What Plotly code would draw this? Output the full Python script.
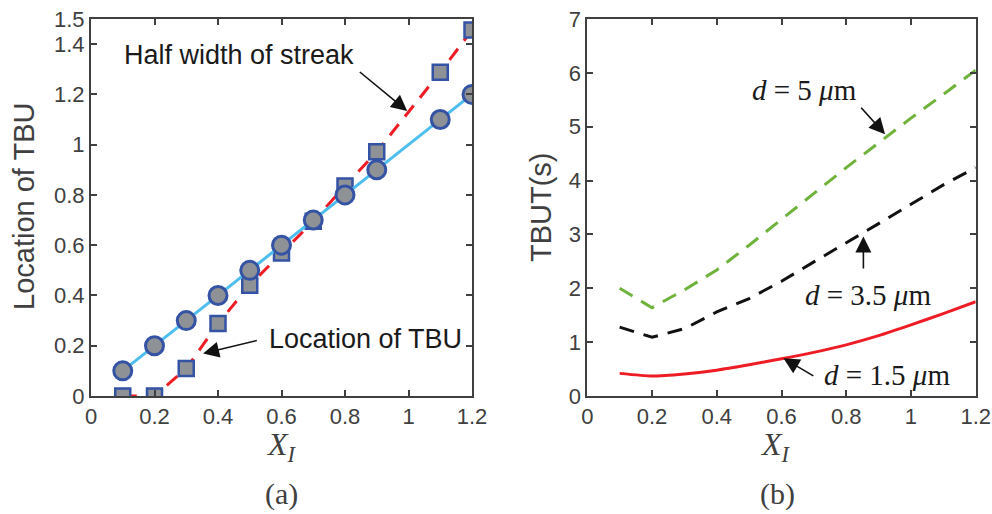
import plotly.graph_objects as go

# ---- data (a) ----
xa = [0.1, 0.2, 0.3, 0.4, 0.5, 0.6, 0.7, 0.8, 0.9, 1.1, 1.2]
loc_tbu = [0.0, 0.0, 0.109, 0.288, 0.441, 0.569, 0.695, 0.836, 0.972, 1.288, 1.456]
half_width = [0.1, 0.2, 0.3, 0.4, 0.5, 0.6, 0.7, 0.8, 0.9, 1.1, 1.2]

# ---- data (b) ----
xb = [0.1, 0.2, 0.3, 0.4, 0.5, 0.6, 0.7, 0.8, 0.9, 1.0, 1.1, 1.2]
tbut_d5 = [2.0, 1.64, 1.97, 2.34, 2.80, 3.28, 3.77, 4.24, 4.70, 5.16, 5.60, 6.05]
tbut_d35 = [1.28, 1.09, 1.25, 1.56, 1.81, 2.13, 2.49, 2.84, 3.20, 3.56, 3.92, 4.24]
tbut_d15 = [0.42, 0.37, 0.41, 0.48, 0.58, 0.69, 0.81, 0.95, 1.12, 1.32, 1.53, 1.75]

xticks = [0, 0.2, 0.4, 0.6, 0.8, 1.0, 1.2]
xticklabels = ["0", "0.2", "0.4", "0.6", "0.8", "1", "1.2"]
yticks_a = [0, 0.2, 0.4, 0.6, 0.8, 1.0, 1.2, 1.4, 1.5]
yticklabels_a = ["0", "0.2", "0.4", "0.6", "0.8", "1", "1.2", "1.4", "1.5"]
yticks_b = [0, 1, 2, 3, 4, 5, 6, 7]

AX = "#404040"
SANS = "Liberation Sans, Arial, sans-serif"
SERIF = "Liberation Serif, DejaVu Serif, serif"
MFILL = "#8e9196"
MEDGE = "#3553a5"

fig = go.Figure()

fig.add_trace(go.Scatter(
    x=xa, y=loc_tbu, mode="lines+markers", xaxis="x", yaxis="y",
    line=dict(color="#ee1c24", width=3, dash="14px,10px"),
    marker=dict(symbol="square", size=15, color=MFILL, line=dict(color=MEDGE, width=2.5)),
    showlegend=False))
fig.add_trace(go.Scatter(
    x=xa, y=half_width, mode="lines+markers", xaxis="x", yaxis="y",
    line=dict(color="#4dbeee", width=3),
    marker=dict(symbol="circle", size=18, color=MFILL, line=dict(color=MEDGE, width=3)),
    showlegend=False))

fig.add_trace(go.Scatter(
    x=xb, y=tbut_d5, mode="lines", xaxis="x2", yaxis="y2",
    line=dict(color="#6fb23c", width=3, dash="15px,10px"), showlegend=False))
fig.add_trace(go.Scatter(
    x=xb, y=tbut_d35, mode="lines", xaxis="x2", yaxis="y2",
    line=dict(color="#111111", width=3, dash="15px,10px"), showlegend=False))
fig.add_trace(go.Scatter(
    x=xb, y=tbut_d15, mode="lines", xaxis="x2", yaxis="y2",
    line=dict(color="#ee1c24", width=3, shape="spline", smoothing=0.6), showlegend=False))

axcommon = dict(showline=True, linecolor=AX, linewidth=2, mirror="ticks",
                ticks="inside", ticklen=6, tickwidth=2, tickcolor=AX,
                showgrid=False, zeroline=False, automargin=False,
                tickfont=dict(family=SANS, size=22, color=AX))

ydom = [1 - 396 / 514, 1 - 19 / 514]
fig.update_layout(
    width=992, height=514, autosize=False,
    margin=dict(l=0, r=0, t=0, b=0, pad=0),
    paper_bgcolor="white", plot_bgcolor="white",
    xaxis=dict(domain=[91 / 992, 472 / 992], range=[0, 1.2], tickvals=xticks,
               ticktext=xticklabels, anchor="y", **axcommon),
    yaxis=dict(domain=ydom, range=[0, 1.5], tickvals=yticks_a, ticktext=yticklabels_a,
               anchor="x", **axcommon),
    xaxis2=dict(domain=[587.3 / 992, 975.7 / 992], range=[0, 1.2], tickvals=xticks,
                ticktext=xticklabels, anchor="y2", **axcommon),
    yaxis2=dict(domain=ydom, range=[0, 7], tickvals=yticks_b, anchor="x2", **axcommon),
)

def ptxt(px, py, text, size, family, angle=0, color="#222222"):
    fig.add_annotation(x=px / 992, y=1 - py / 514, xref="paper", yref="paper",
                       text=text, showarrow=False, textangle=angle,
                       xanchor="center", yanchor="middle",
                       font=dict(family=family, size=size, color=color))

# axis titles and panel labels
ptxt(24, 207, "Location of TBU", 29, SANS, angle=-90, color=AX)
ptxt(541, 207, "TBUT(s)", 29, SANS, angle=-90, color=AX)
ptxt(281, 446, "<i>X</i><sub><i>I</i></sub>", 32, SERIF, color=AX)
ptxt(775, 446, "<i>X</i><sub><i>I</i></sub>", 32, SERIF, color=AX)
ptxt(281, 494, "(a)", 30, SERIF, color=AX)
ptxt(777, 494, "(b)", 30, SERIF, color=AX)

def arrow(xr, yr, x, y, ax, ay):
    fig.add_annotation(x=x, y=y, ax=ax, ay=ay, xref=xr, yref=yr, axref=xr, ayref=yr,
                       text="", showarrow=True, arrowhead=2, arrowsize=2,
                       arrowwidth=1.6, arrowcolor="#111111")

def dtxt(xr, yr, x, y, text, size, family):
    fig.add_annotation(x=x, y=y, xref=xr, yref=yr, text=text, showarrow=False,
                       xanchor="center", yanchor="middle",
                       font=dict(family=family, size=size, color="#1a1a1a"))

# (a) annotations
dtxt("x", "y", 0.466, 1.357, "Half width of streak", 27, SANS)
arrow("x", "y", 0.996, 1.134, 0.842, 1.294)
dtxt("x", "y", 0.866, 0.226, "Location of TBU", 27, SANS)
arrow("x", "y", 0.353, 0.169, 0.527, 0.222)

# (b) annotations
dtxt("x2", "y2", 0.672, 5.68, "<i>d</i> = 5 <i>μ</i>m", 29, SERIF)
arrow("x2", "y2", 0.920, 4.86, 0.842, 5.38)
dtxt("x2", "y2", 0.867, 1.875, "<i>d</i> = 3.5 <i>μ</i>m", 29, SERIF)
arrow("x2", "y2", 0.853, 2.96, 0.853, 2.34)
dtxt("x2", "y2", 0.926, 0.39, "<i>d</i> = 1.5 <i>μ</i>m", 29, SERIF)
arrow("x2", "y2", 0.606, 0.70, 0.703, 0.358)

fig.write_html("out.html")
